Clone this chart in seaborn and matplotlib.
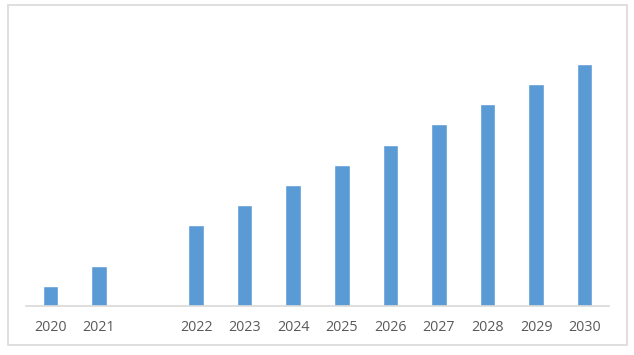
import numpy as np
import pandas as pd
import seaborn as sns
import matplotlib.pyplot as plt
from matplotlib.patches import Rectangle

years = ["2020", "2021", " ", "2022", "2023", "2024", "2025", "2026", "2027", "2028", "2029", "2030"]
values = [1.0, 2.0, np.nan, 4.05, 5.05, 6.05, 7.05, 8.05, 9.1, 10.1, 11.1, 12.1]

df = pd.DataFrame({"year": years, "value": values})

sns.set_theme(style="white")
plt.rcParams['font.family'] = ['Open Sans', 'DejaVu Sans']

W, H = 634, 355
fig = plt.figure(figsize=(W / 100, H / 100), dpi=100)
ax = fig.add_axes([26 / W, (H - 306) / H, (609 - 26) / W, (306 - 22) / H])

sns.barplot(data=df, x="year", y="value", order=years, color="#5b9bd5",
            saturation=1, width=0.32, ax=ax)

ax.set_ylim(0, 14.2)
ax.set_xlim(-0.5, len(years) - 0.5)
ax.set_xlabel("")
ax.set_ylabel("")
ax.set_yticks([])
for s in ["top", "left", "right"]:
    ax.spines[s].set_visible(False)
ax.spines["bottom"].set_color("#d9d9d9")
ax.spines["bottom"].set_linewidth(1.2)
ax.tick_params(axis="x", length=0, pad=10, labelsize=10.3, labelcolor="#595959")

# outer chart border
fig.patches.append(Rectangle((8 / W, (H - 345) / H), (627 - 8) / W, (345 - 5) / H,
                             transform=fig.transFigure, fill=False,
                             edgecolor="#d9d9d9", linewidth=1.2))

fig.savefig("out.png", dpi=100)
